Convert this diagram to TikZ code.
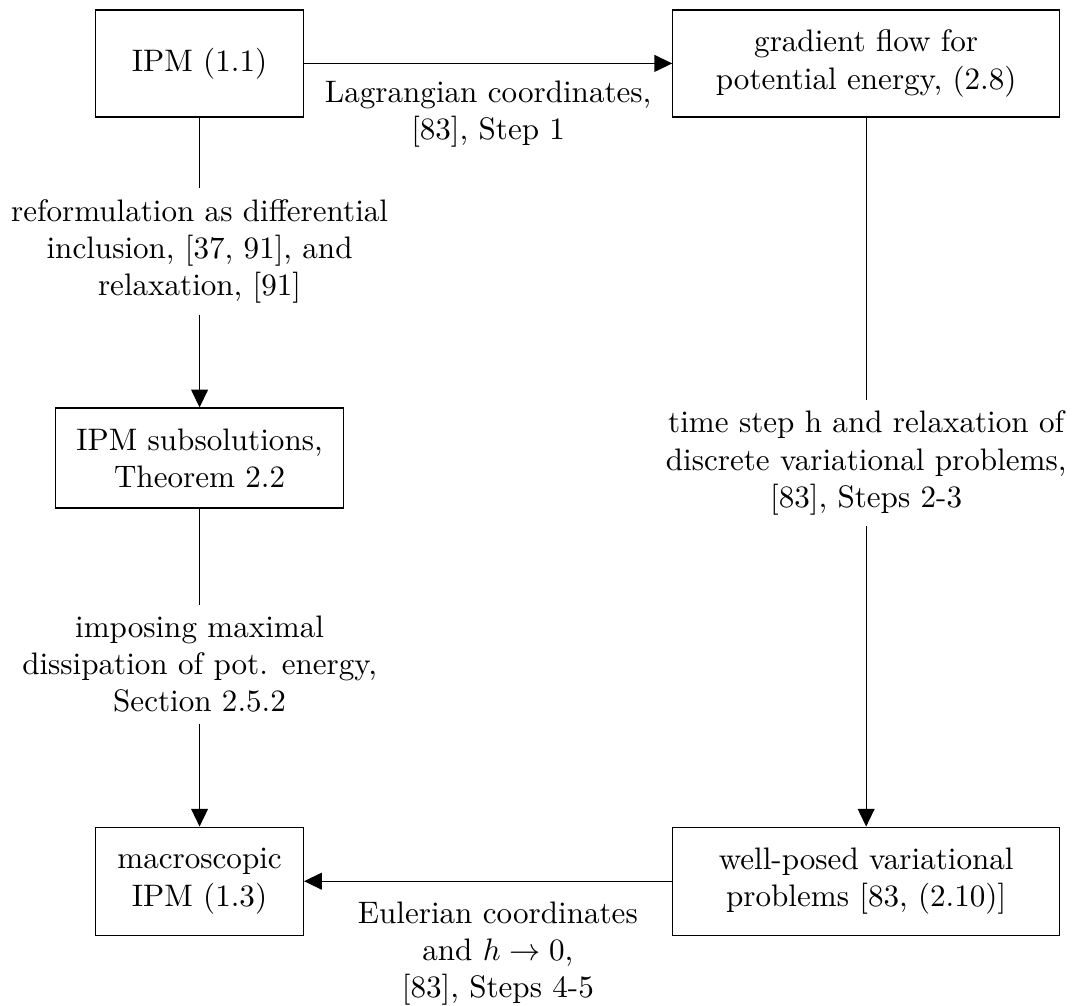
\documentclass[tikz,border=0pt]{standalone}
\usepackage{amsmath}
\usetikzlibrary{arrows.meta,positioning}

\begin{document}
\begin{tikzpicture}[box/.style={draw, align=center}, lbl/.style={align=center}, arr/.style={-{Triangle[length=5.7pt,width=5.4pt]}}]
            \useasboundingbox (0,0) rectangle (12.118,-11.363);
\node[box, minimum width=2.348cm, minimum height=1.209cm] (ipm) at (2.256,-0.717) {IPM (1.1)}; % ipm 
\node[box, minimum width=4.371cm, minimum height=1.209cm] (grad) at (9.791,-0.717) {gradient flow for\\ potential energy, (2.8)}; % grad 
\node[box, minimum width=3.251cm, minimum height=1.131cm] (sub) at (2.256,-5.178) {IPM subsolutions,\\ Theorem 2.2}; % sub 
\node[box, minimum width=2.348cm, minimum height=1.221cm] (macro) at (2.256,-9.961) {macroscopic\\ IPM (1.3)}; % macro 
\node[box, minimum width=4.371cm, minimum height=1.221cm] (well) at (9.791,-9.961) {well-posed variational\\ problems [83, (2.10)]}; % well 
\node[lbl] (reform) at (2.256,-2.843) {reformulation as differential\\ inclusion, [37, 91], and\\ relaxation, [91]}; % reform 
\node[lbl] (dissip) at (2.256,-7.507) {imposing maximal\\ dissipation of pot. energy,\\ Section 2.5.2}; % dissip 
\node[lbl] (tstep) at (9.791,-5.235) {time step h and relaxation of\\ discrete variational problems,\\ {[83]}, Steps 2-3}; % tstep 
\draw[arr] (ipm) -- node[lbl, below=2pt] {Lagrangian coordinates,\\ {[83]}, Step 1} (grad); % ipm-grad 
\draw (ipm) -- (reform); % ipm-reform 
\draw[arr] (reform) -- (sub); % reform-sub 
\draw (sub) -- (dissip); % sub-dissip 
\draw[arr] (dissip) -- (macro); % dissip-macro 
\draw (grad) -- (tstep); % grad-tstep 
\draw[arr] (tstep) -- (well); % tstep-well 
\draw[arr] (well) -- node[lbl, below=3pt, xshift=0.11cm] {Eulerian coordinates\\ and $h \to 0$,\\ {[83]}, Steps 4-5} (macro); % well-macro 

            \end{tikzpicture}
\end{document}
